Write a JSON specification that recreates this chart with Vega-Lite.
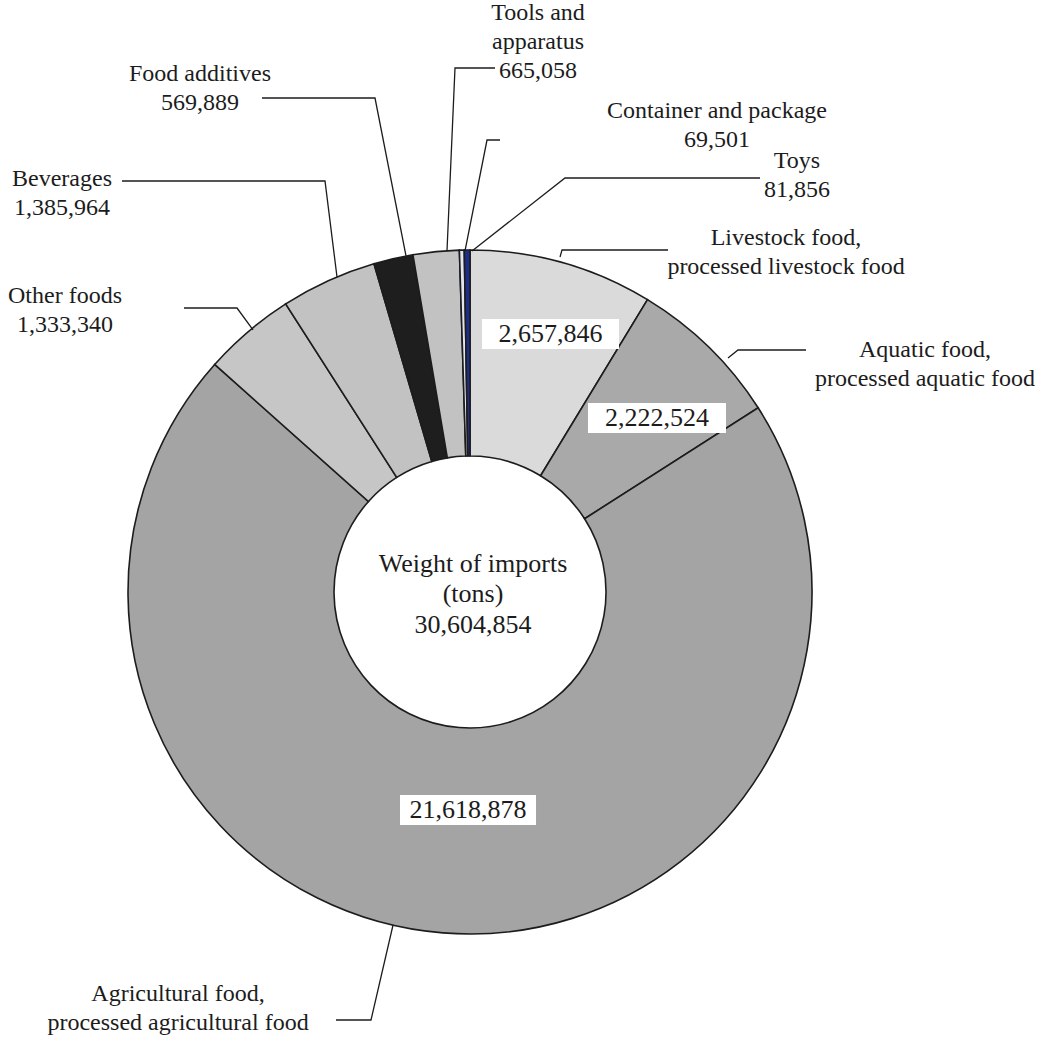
{
  "$schema": "https://vega.github.io/schema/vega-lite/v6.json",
  "width": 1059,
  "height": 1041,
  "autosize": {"type": "none"},
  "padding": 0,
  "background": "white",
  "config": {"view": {"stroke": null}},
  "datasets": {
    "imports": [
      {"category": "Livestock food, processed livestock food", "tons": 2657846, "order": 1},
      {"category": "Aquatic food, processed aquatic food", "tons": 2222524, "order": 2},
      {"category": "Agricultural food, processed agricultural food", "tons": 21618878, "order": 3},
      {"category": "Other foods", "tons": 1333340, "order": 4},
      {"category": "Beverages", "tons": 1385964, "order": 5},
      {"category": "Food additives", "tons": 569889, "order": 6},
      {"category": "Tools and apparatus", "tons": 665058, "order": 7},
      {"category": "Container and package", "tons": 69501, "order": 8},
      {"category": "Toys", "tons": 81856, "order": 9}
    ],
    "labels": [
      {"id": "agri", "label": "Agricultural food,\nprocessed agricultural food", "lx": -0.8538, "ly": -1.1754},
      {"id": "other", "label": "Other foods\n1,333,340", "lx": -1.1842, "ly": 0.8655},
      {"id": "bev", "label": "Beverages\n1,385,964", "lx": -1.1930, "ly": 1.2076},
      {"id": "add", "label": "Food additives\n569,889", "lx": -0.7895, "ly": 1.5146},
      {"id": "tools", "label": "Tools and\napparatus\n665,058", "lx": 0.1988, "ly": 1.6930},
      {"id": "cont", "label": "Container and package\n69,501", "lx": 0.7222, "ly": 1.4064},
      {"id": "toys", "label": "Toys\n81,856", "lx": 0.9561, "ly": 1.2602},
      {"id": "live", "label": "Livestock food,\nprocessed livestock food", "lx": 0.9240, "ly": 1.0351},
      {"id": "aqua", "label": "Aquatic food,\nprocessed aquatic food", "lx": 1.3304, "ly": 0.7076}
    ],
    "leaders": [
      {"id": "agri", "seq": 1, "lx": -0.2251, "ly": -0.9737},
      {"id": "agri", "seq": 2, "lx": -0.2895, "ly": -1.2515},
      {"id": "agri", "seq": 3, "lx": -0.3918, "ly": -1.2515},
      {"id": "other", "seq": 1, "lx": -0.6345, "ly": 0.7661},
      {"id": "other", "seq": 2, "lx": -0.6813, "ly": 0.8304},
      {"id": "other", "seq": 3, "lx": -0.8363, "ly": 0.8304},
      {"id": "bev", "seq": 1, "lx": -0.3889, "ly": 0.9211},
      {"id": "bev", "seq": 2, "lx": -0.4240, "ly": 1.2018},
      {"id": "bev", "seq": 3, "lx": -1.0175, "ly": 1.2018},
      {"id": "add", "seq": 1, "lx": -0.1871, "ly": 0.9825},
      {"id": "add", "seq": 2, "lx": -0.2778, "ly": 1.4444},
      {"id": "add", "seq": 3, "lx": -0.6082, "ly": 1.4444},
      {"id": "tools", "seq": 1, "lx": -0.0673, "ly": 0.9971},
      {"id": "tools", "seq": 2, "lx": -0.0439, "ly": 1.5322},
      {"id": "tools", "seq": 3, "lx": 0.0731, "ly": 1.5322},
      {"id": "cont", "seq": 1, "lx": -0.0146, "ly": 0.9971},
      {"id": "cont", "seq": 2, "lx": 0.0497, "ly": 1.3216},
      {"id": "cont", "seq": 3, "lx": 0.0877, "ly": 1.3216},
      {"id": "toys", "seq": 1, "lx": 0.0058, "ly": 0.9971},
      {"id": "toys", "seq": 2, "lx": 0.2778, "ly": 1.2105},
      {"id": "toys", "seq": 3, "lx": 0.8480, "ly": 1.2105},
      {"id": "live", "seq": 1, "lx": 0.2632, "ly": 0.9795},
      {"id": "live", "seq": 2, "lx": 0.2690, "ly": 1.0},
      {"id": "live", "seq": 3, "lx": 0.5789, "ly": 1.0},
      {"id": "aqua", "seq": 1, "lx": 0.7544, "ly": 0.6842},
      {"id": "aqua", "seq": 2, "lx": 0.7836, "ly": 0.7076},
      {"id": "aqua", "seq": 3, "lx": 0.9825, "ly": 0.7076}
    ],
    "values": [
      {"text": "2,657,846", "x1": 0.0351, "x2": 0.4357, "y1": 0.7982, "y2": 0.7105, "tx": 0.2354, "ty": 0.7544},
      {"text": "2,222,524", "x1": 0.3450, "x2": 0.7485, "y1": 0.5526, "y2": 0.4649, "tx": 0.5468, "ty": 0.5088},
      {"text": "21,618,878", "x1": -0.2047, "x2": 0.1930, "y1": -0.5936, "y2": -0.6813, "tx": -0.0058, "ty": -0.6374}
    ],
    "center": [
      {"text": "Weight of imports\n(tons)\n30,604,854", "cx": 0.0088, "cy": 0.0833}
    ]
  },
  "layer": [
    {
      "data": {"name": "imports"},
      "mark": {"type": "arc", "outerRadius": 342, "innerRadius": 136, "stroke": "#1c1c1c", "strokeWidth": 1.6},
      "encoding": {
        "x": {"datum": 0, "type": "quantitative", "scale": {"domain": [-1.3743, 1.7222], "nice": false, "zero": false}, "axis": null},
        "y": {"datum": 0, "type": "quantitative", "scale": {"domain": [-1.3129, 1.7310], "nice": false, "zero": false}, "axis": null},
        "theta": {"field": "tons", "type": "quantitative", "stack": true},
        "order": {"field": "order", "type": "quantitative"},
        "color": {
          "field": "category", "type": "nominal", "legend": null,
          "scale": {
            "domain": ["Livestock food, processed livestock food", "Aquatic food, processed aquatic food", "Agricultural food, processed agricultural food", "Other foods", "Beverages", "Food additives", "Tools and apparatus", "Container and package", "Toys"],
            "range": ["#dadada", "#a9a9a9", "#a4a4a4", "#c6c6c6", "#c2c2c2", "#1e1e1e", "#c2c2c2", "#e4e4ee", "#1f2d8a"]
          }
        }
      }
    },
    {
      "data": {"name": "leaders"},
      "mark": {"type": "line", "stroke": "#1c1c1c", "strokeWidth": 1.3},
      "encoding": {
        "x": {"field": "lx", "type": "quantitative"},
        "y": {"field": "ly", "type": "quantitative"},
        "detail": {"field": "id"},
        "order": {"field": "seq", "type": "quantitative"}
      }
    },
    {
      "data": {"name": "values"},
      "mark": {"type": "rect", "fill": "white", "stroke": null},
      "encoding": {
        "x": {"field": "x1", "type": "quantitative"},
        "x2": {"field": "x2"},
        "y": {"field": "y1", "type": "quantitative"},
        "y2": {"field": "y2"}
      }
    },
    {
      "data": {"name": "values"},
      "mark": {"type": "text", "font": "Liberation Serif", "fontSize": 26, "color": "#1c1c1c", "align": "center", "baseline": "middle"},
      "encoding": {
        "x": {"field": "tx", "type": "quantitative"},
        "y": {"field": "ty", "type": "quantitative"},
        "text": {"field": "text"}
      }
    },
    {
      "data": {"name": "center"},
      "mark": {"type": "text", "font": "Liberation Serif", "fontSize": 26, "color": "#1c1c1c", "align": "center", "baseline": "middle", "lineBreak": "\n", "lineHeight": 30.5},
      "encoding": {
        "x": {"field": "cx", "type": "quantitative"},
        "y": {"field": "cy", "type": "quantitative"},
        "text": {"field": "text"}
      }
    },
    {
      "data": {"name": "labels"},
      "mark": {"type": "text", "font": "Liberation Serif", "fontSize": 24, "color": "#1c1c1c", "align": "center", "baseline": "middle", "lineBreak": "\n", "lineHeight": 29},
      "encoding": {
        "x": {"field": "lx", "type": "quantitative"},
        "y": {"field": "ly", "type": "quantitative"},
        "text": {"field": "label"}
      }
    }
  ]
}
